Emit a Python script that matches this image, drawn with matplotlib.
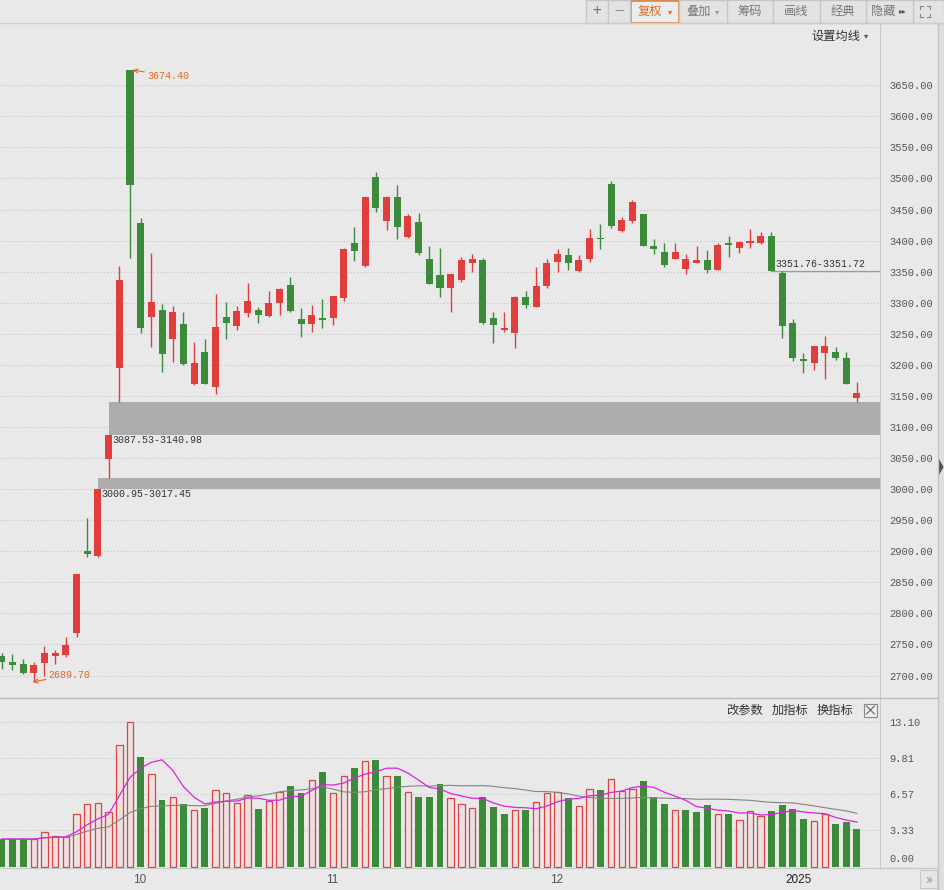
import matplotlib
matplotlib.use('Agg')
import matplotlib.pyplot as plt
import numpy as np
import pandas as pd
from matplotlib.patches import Rectangle, Polygon
from matplotlib.transforms import blended_transform_factory

W, H = 944, 890

# daily candles, Sep 11 2024 .. Jan 13 2025
dates = ['09-11', '09-12', '09-13', '09-18', '09-19', '09-20', '09-23', '09-24', '09-25', '09-26',
         '09-27', '09-30', '10-08', '10-09', '10-10', '10-11', '10-14', '10-15', '10-16', '10-17',
         '10-18', '10-21', '10-22', '10-23', '10-24', '10-25', '10-28', '10-29', '10-30', '10-31',
         '11-01', '11-04', '11-05', '11-06', '11-07', '11-08', '11-11', '11-12', '11-13', '11-14',
         '11-15', '11-18', '11-19', '11-20', '11-21', '11-22', '11-25', '11-26', '11-27', '11-28',
         '11-29', '12-02', '12-03', '12-04', '12-05', '12-06', '12-09', '12-10', '12-11', '12-12',
         '12-13', '12-16', '12-17', '12-18', '12-19', '12-20', '12-23', '12-24', '12-25', '12-26',
         '12-27', '12-30', '12-31', '01-02', '01-03', '01-06', '01-07', '01-08', '01-09', '01-10',
         '01-13']
opens = [2731.4, 2721.7, 2718.5, 2703.5, 2720.6, 2731.4, 2733.0, 2768.0, 2900.0, 2893.0,
         3048.0, 3194.6, 3674.4, 3428.0, 3277.5, 3288.3, 3241.0, 3265.3, 3168.7, 3220.7,
         3164.8, 3277.5, 3263.0, 3284.0, 3288.3, 3278.6, 3300.0, 3328.0, 3273.3, 3265.8,
         3275.0, 3275.0, 3307.0, 3395.6, 3359.0, 3502.0, 3432.0, 3469.7, 3406.3, 3429.4,
         3370.4, 3344.6, 3324.2, 3336.6, 3363.4, 3368.8, 3275.0, 3256.0, 3250.8, 3309.7,
         3293.6, 3327.0, 3366.0, 3377.0, 3351.6, 3370.4, 3403.6, 3490.8, 3416.0, 3432.0,
         3442.8, 3390.8, 3381.6, 3371.0, 3354.3, 3364.4, 3368.8, 3352.7, 3396.5, 3388.6,
         3396.6, 3395.6, 3407.4, 3347.4, 3267.0, 3209.4, 3202.5, 3218.6, 3220.2, 3210.5,
         3147.0]
highs = [2735.7, 2734.6, 2727.0, 2722.2, 2747.5, 2741.0, 2761.5, 2863.1, 2953.0, 3000.95,
         3087.53, 3358.6, 3674.4, 3437.0, 3380.5, 3297.4, 3294.7, 3284.6, 3236.8, 3242.0,
         3313.5, 3300.7, 3294.7, 3332.3, 3293.6, 3319.3, 3323.0, 3341.9, 3291.0, 3296.3,
         3306.0, 3311.0, 3388.0, 3421.4, 3472.0, 3509.9, 3471.0, 3489.5, 3442.8, 3444.0,
         3391.3, 3387.6, 3346.5, 3374.0, 3378.0, 3371.5, 3284.6, 3284.6, 3311.0, 3319.3,
         3357.0, 3370.0, 3386.0, 3387.6, 3377.0, 3418.2, 3426.7, 3496.4, 3438.4, 3465.3,
         3443.5, 3402.6, 3396.6, 3396.6, 3378.4, 3391.3, 3384.8, 3395.6, 3407.4, 3399.8,
         3418.2, 3413.8, 3413.3, 3351.72, 3273.8, 3218.6, 3230.3, 3246.4, 3228.2, 3220.2,
         3173.0]
lows = [2710.0, 2709.0, 2702.4, 2689.7, 2699.2, 2718.5, 2730.3, 2761.5, 2890.2, 2890.2,
        3017.45, 3140.98, 3371.5, 3250.8, 3229.0, 3189.0, 3205.0, 3200.5, 3168.0, 3169.4,
        3153.0, 3241.0, 3256.0, 3277.5, 3266.9, 3277.3, 3280.2, 3285.5, 3245.3, 3253.4,
        3259.8, 3264.0, 3303.0, 3367.6, 3357.0, 3445.5, 3417.0, 3402.6, 3404.0, 3376.8,
        3330.0, 3309.7, 3285.5, 3332.8, 3350.0, 3266.0, 3234.7, 3253.4, 3227.6, 3291.0,
        3293.0, 3324.2, 3350.0, 3352.7, 3350.0, 3365.0, 3386.0, 3419.8, 3414.3, 3427.8,
        3391.3, 3378.0, 3358.0, 3369.9, 3346.2, 3364.0, 3348.3, 3352.0, 3374.0, 3380.5,
        3388.6, 3394.0, 3351.76, 3242.7, 3206.7, 3186.4, 3191.7, 3176.7, 3207.8, 3168.5,
        3140.2]
closes = [2721.8, 2717.1, 2704.1, 2717.3, 2736.0, 2736.8, 2748.9, 2863.1, 2896.3, 3000.95,
          3087.53, 3336.5, 3489.8, 3258.9, 3301.9, 3217.7, 3284.3, 3201.3, 3203.0, 3169.4,
          3261.6, 3268.1, 3285.9, 3302.8, 3280.3, 3299.7, 3322.2, 3286.4, 3266.2, 3279.8,
          3272.0, 3310.2, 3387.0, 3383.8, 3470.7, 3452.3, 3470.1, 3422.0, 3439.3, 3379.8,
          3330.7, 3323.9, 3346.0, 3368.0, 3370.4, 3267.2, 3263.8, 3259.8, 3309.8, 3295.7,
          3326.5, 3364.0, 3378.8, 3364.7, 3368.9, 3404.1, 3402.5, 3422.7, 3432.5, 3461.5,
          3391.9, 3386.3, 3361.5, 3382.2, 3370.0, 3368.1, 3351.9, 3393.5, 3393.4, 3398.1,
          3400.1, 3407.3, 3351.76, 3262.6, 3211.4, 3206.9, 3229.6, 3230.2, 3211.4, 3168.5,
          3155.0]
volumes = [2.52, 2.52, 2.52, 2.50, 3.12, 2.82, 2.67, 4.77, 5.68, 5.74,
           4.92, 10.99, 13.03, 9.88, 8.35, 6.03, 6.28, 5.68, 5.10, 5.31,
           6.90, 6.64, 5.74, 6.49, 5.22, 5.95, 6.73, 7.33, 6.64, 7.81,
           8.53, 6.64, 8.20, 8.92, 9.55, 9.64, 8.20, 8.23, 6.73, 6.34,
           6.34, 7.48, 6.19, 5.68, 5.29, 6.28, 5.41, 4.77, 5.10, 5.14,
           5.83, 6.64, 6.73, 6.19, 5.50, 7.03, 6.94, 7.90, 6.88, 7.03,
           7.75, 6.31, 5.68, 5.14, 5.14, 4.95, 5.59, 4.77, 4.77, 4.23,
           5.01, 4.62, 5.05, 5.59, 5.23, 4.32, 4.14, 4.74, 3.90, 4.05,
           3.42]
prev_close = 2744.2  # close before the first candle, decides first volume colour

month_idx = [12, 30, 51, 73]
month_labels = ['10', '11', '12', '2025']
price_ticks = list(range(2700, 3651, 50))
vol_ticks = [3.33, 6.57, 9.81, 13.10]

# (candle index, lower, upper) of the unfilled gaps
gaps = [(9, 3000.95, 3017.45), (10, 3087.53, 3140.98)]
gap_line = (72, 3351.76, 3351.72)

BG = '#e9e9e9'
RED = '#e03d3d'
GREEN = '#3b8b3b'
ORANGE = '#e8661e'
MONO = 'Liberation Mono'
CJK = ['Noto Sans CJK SC', 'DejaVu Sans']

o = np.array(opens); h = np.array(highs); l = np.array(lows)
c = np.array(closes); v = np.array(volumes)
x = np.arange(len(c))

fig = plt.figure(figsize=(W / 100, H / 100), dpi=100, facecolor=BG)


def box(left, top, right, bottom):
    return [left / W, 1 - bottom / H, (right - left) / W, (bottom - top) / H]


ax = fig.add_axes(box(0, 23, 880, 698))
axv = fig.add_axes(box(0, 698, 880, 867.5), sharex=ax)
for a in (ax, axv):
    a.set_facecolor(BG)
ax.set_xlim(-0.16, 82.16)
ax.set_ylim(2663.8, 3750.2)
axv.set_ylim(-0.045, 15.23)

# candles
up = c >= o
col = np.where(up, RED, GREEN)
ax.vlines(x, l, h, colors=col, lw=1.0, zorder=3)
ax.bar(x, np.maximum(np.abs(c - o), 1.6), 0.66, bottom=np.minimum(o, c),
       color=col, lw=0, zorder=4)

# gaps
xr = ax.get_xlim()[1]
for i, lo, hi in gaps:
    ax.fill_between([i, xr], lo, hi, color='#adadad', lw=0, zorder=2)
    ax.text(i + 0.35, lo - 1, f'{lo:.2f}-{hi:.2f}', va='top', ha='left',
            fontsize=7.2, family=MONO, color='#333333', zorder=5)
i, lo, hi = gap_line
ax.hlines((lo + hi) / 2, i, xr, color='#9a9a9a', lw=0.9, zorder=2)
ax.text(i + 0.4, lo + 3, f'{lo:.2f}-{hi:.2f}', va='bottom', ha='left',
        fontsize=7.2, family=MONO, color='#333333', zorder=5)

# extreme marks
imax, imin = int(np.argmax(h)), int(np.argmin(l))
ax.annotate(f'{h[imax]:.2f}', xy=(imax + 0.25, h[imax]), xytext=(imax + 1.6, h[imax] - 9),
            va='center', ha='left', fontsize=7.2, family=MONO, color=ORANGE,
            arrowprops=dict(arrowstyle='->', color=ORANGE, lw=0.8, shrinkA=0, shrinkB=0))
ax.annotate(f'{l[imin]:.2f}', xy=(imin - 0.1, l[imin]), xytext=(imin + 1.4, l[imin] + 11),
            va='center', ha='left', fontsize=7.2, family=MONO, color=ORANGE,
            arrowprops=dict(arrowstyle='->', color=ORANGE, lw=0.8, shrinkA=0, shrinkB=0))

# price axis
ax.yaxis.tick_right()
ax.set_yticks(price_ticks)
ax.set_yticklabels([f'{t:.2f}' for t in price_ticks])
ax.tick_params(axis='y', length=0, pad=6.5, labelsize=7.5, labelcolor='#555555')
for t in ax.get_yticklabels():
    t.set_family(MONO)
ax.tick_params(axis='x', bottom=False, labelbottom=False)
ax.grid(axis='y', ls=(0, (1, 2)), color='#c4c4c4', lw=0.8)
for s in ('left', 'top'):
    ax.spines[s].set_visible(False)
ax.spines['right'].set_color('#c8c8c8')
ax.spines['bottom'].set_color('#bcbcbc')

# volume
pc = np.concatenate([[prev_close], c[:-1]])
vup = c >= pc
axv.bar(x[vup], v[vup], 0.6, facecolor='#ede0e0', edgecolor='#d94545', lw=0.9, zorder=3)
axv.bar(x[~vup], v[~vup], 0.64, color=GREEN, lw=0, zorder=3)
ma5 = pd.Series(v).rolling(5, min_periods=1).mean()
ma20 = pd.Series(v).rolling(20, min_periods=1).mean()
axv.plot(x, ma20, color='#858585', lw=0.8, zorder=4)
axv.plot(x, ma5, color='#e020e0', lw=0.9, zorder=5)

axv.yaxis.tick_right()
axv.set_yticks(vol_ticks)
axv.set_yticklabels([f'{t:.2f}' for t in vol_ticks])
axv.tick_params(axis='y', length=0, pad=6.5, labelsize=7.5, labelcolor='#555555')
for t in axv.get_yticklabels():
    t.set_family(MONO)
tr = blended_transform_factory(axv.transAxes, axv.transData)
axv.text(1 + 9 / 880, 0.72, '0.00', transform=tr, va='center', ha='left',
         fontsize=7.5, family=MONO, color='#555555')
axv.grid(axis='y', ls=(0, (1, 2)), color='#c4c4c4', lw=0.8)
for s in ('left', 'top'):
    axv.spines[s].set_visible(False)
axv.spines['right'].set_color('#c8c8c8')
axv.spines['bottom'].set_color('#c8c8c8')

axv.set_xticks(np.array(month_idx) + 0.3)
axv.set_xticklabels(month_labels)
axv.tick_params(axis='x', length=0, pad=4.5, labelsize=8.5)
for t, lab in zip(axv.get_xticklabels(), month_labels):
    t.set_ha('left')
    t.set_family('Liberation Sans')
    t.set_color('#222222' if len(lab) == 4 else '#555555')

# window chrome in pixel coordinates
ui = fig.add_axes([0, 0, 1, 1], zorder=10)
ui.set_xlim(0, W)
ui.set_ylim(H, 0)
ui.axis('off')
ui.patch.set_alpha(0)

ui.plot([0, W], [23, 23], color='#cdcdcd', lw=1)
ui.plot([0, 938], [698, 698], color='#bcbcbc', lw=1)
ui.plot([880, 938], [867.5, 867.5], color='#c8c8c8', lw=1)
ui.plot([938, 938], [23, H], color='#c4c4c4', lw=1)
ui.add_patch(Rectangle((938.5, 23), 6, H - 23, fc='#dedede', ec='none'))
ui.add_patch(Polygon([[939, 459], [943.5, 467], [939, 475]], closed=True, fc='#505050', ec='none'))

ui.add_patch(Rectangle((586, 0), 358, 22.5, fc='#e3e3e3', ec='#c6c6c6', lw=1))
for sx in [608, 630, 679, 727, 773, 820, 866, 913]:
    ui.plot([sx, sx], [0, 22.5], color='#c6c6c6', lw=1)
ui.add_patch(Rectangle((630.5, 0.5), 48, 22, fc='#ececec', ec='#e07a30', lw=1.1))
ui.text(597, 11.5, '+', ha='center', va='center', fontsize=11, color='#777777', family=CJK)
ui.text(619, 11.5, '—', ha='center', va='center', fontsize=8, color='#777777', family=CJK)
ui.text(650, 11.5, '复权', ha='center', va='center', fontsize=8.8, color=ORANGE, family=CJK)
ui.text(670, 11.5, '▾', ha='center', va='center', fontsize=6, color=ORANGE, family=CJK)
ui.text(699, 11.5, '叠加', ha='center', va='center', fontsize=8.8, color='#777777', family=CJK)
ui.text(717, 11.5, '▾', ha='center', va='center', fontsize=6, color='#999999', family=CJK)
ui.text(750, 11.5, '筹码', ha='center', va='center', fontsize=8.8, color='#777777', family=CJK)
ui.text(796.5, 11.5, '画线', ha='center', va='center', fontsize=8.8, color='#777777', family=CJK)
ui.text(843, 11.5, '经典', ha='center', va='center', fontsize=8.8, color='#777777', family=CJK)
ui.text(883, 11.5, '隐藏', ha='center', va='center', fontsize=8.8, color='#777777', family=CJK)
ui.text(903, 11.5, '▸▸', ha='center', va='center', fontsize=5.5, color='#555555', family=CJK)
for (px, py, dx, dy) in [(920, 6, 1, 1), (930, 6, -1, 1), (920, 17, 1, -1), (930, 17, -1, -1)]:
    ui.plot([px, px + 3 * dx], [py, py], color='#888888', lw=0.8)
    ui.plot([px, px], [py, py + 3 * dy], color='#888888', lw=0.8)

ui.text(836, 36, '设置均线', ha='center', va='center', fontsize=8.8, color='#333333', family=CJK)
ui.text(866, 36, '▾', ha='center', va='center', fontsize=6, color='#555555', family=CJK)

ui.text(745, 710, '改参数', ha='center', va='center', fontsize=8.8, color='#333333', family=CJK)
ui.text(790, 710, '加指标', ha='center', va='center', fontsize=8.8, color='#333333', family=CJK)
ui.text(835, 710, '换指标', ha='center', va='center', fontsize=8.8, color='#333333', family=CJK)
ui.add_patch(Rectangle((864, 703.5), 13, 13, fc='#eeeeee', ec='#888888', lw=0.8))
ui.plot([866.5, 874.5], [706, 714], color='#666666', lw=0.8)
ui.plot([866.5, 874.5], [714, 706], color='#666666', lw=0.8)

ui.add_patch(Rectangle((920, 870), 17, 18, fc='#e6e6e6', ec='#c8c8c8', lw=0.8))
ui.text(928.5, 879, '»', ha='center', va='center', fontsize=10, color='#888888', family=CJK)

fig.savefig('out.png', dpi=100, facecolor=BG)
